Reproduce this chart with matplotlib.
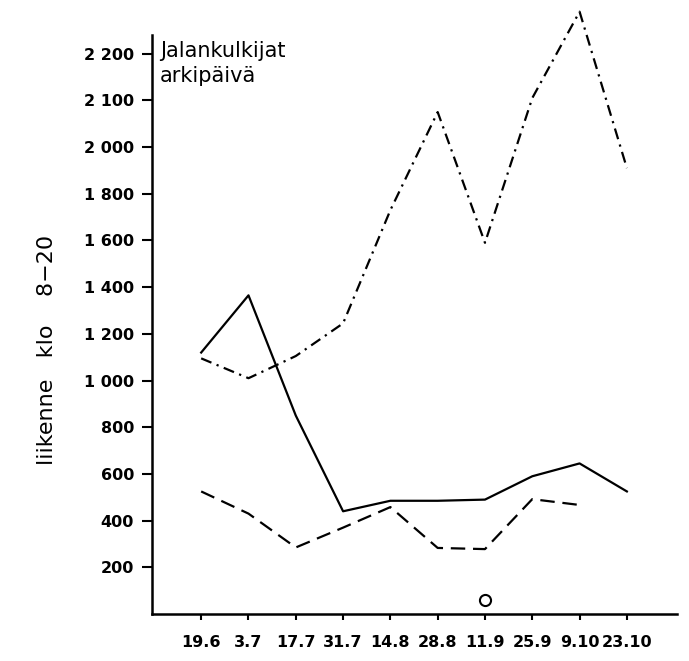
import numpy as np
import matplotlib
matplotlib.use("Agg")
import matplotlib.pyplot as plt

dates = ["19.6", "3.7", "17.7", "31.7", "14.8", "28.8", "11.9", "25.9", "9.10", "23.10"]
solid = [1120, 1365, 850, 440, 485, 485, 490, 590, 645, 525]
dashdot = [1095, 1010, 1105, 1245, 1730, 2075, 1590, 2105, 2290, 1910]
dashed = [525, 430, 285, 370, 458, 283, 278, 492, 467]
circle_x = [6]
circle_y = [60]

yticks = [200, 400, 600, 800, 1000, 1200, 1400, 1600, 1800, 2000, 2100, 2200]
ytick_labels = ["200", "400", "600", "800", "1 000", "1 200", "1 400", "1 600",
                "1 800", "2 000", "2 100", "2 200"]

# scale above 2000 is stretched twice
def fwd(v):
    v = np.asarray(v, dtype=float)
    return np.where(v <= 2000, v, 2000 + 2 * (v - 2000))

def inv(t):
    t = np.asarray(t, dtype=float)
    return np.where(t <= 2000, t, 2000 + (t - 2000) / 2)

fig = plt.figure(figsize=(6.89, 6.61), dpi=100)
ax = fig.add_axes([0.2206, 0.0711, 0.9826 - 0.2206, 0.947 - 0.0711])

x = np.arange(len(dates))
ax.plot(x, solid, color="black", lw=1.6)
ax.plot(x, dashdot, color="black", lw=1.6, linestyle=(0, (5, 2.5, 1, 2.5)), clip_on=False)
ax.plot(x[:len(dashed)], dashed, color="black", lw=1.6, linestyle=(0, (6.5, 3.5)))
ax.plot(circle_x, circle_y, "o", mfc="white", mec="black", mew=1.5, ms=8)

ax.set_yscale("function", functions=(fwd, inv))
ax.set_ylim(0, 2240)
ax.set_xlim(-1.04, 10.06)

ax.set_yticks(yticks)
ax.set_yticklabels(ytick_labels, fontsize=11.5, fontweight="bold")
ax.set_xticks(x)
ax.set_xticklabels(dates, fontsize=11.5, fontweight="bold")
ax.minorticks_off()

ax.spines["top"].set_visible(False)
ax.spines["right"].set_visible(False)
ax.spines["left"].set_linewidth(1.8)
ax.spines["bottom"].set_linewidth(1.8)
ax.tick_params(axis="y", direction="out", length=7, width=1.5, pad=6)
ax.tick_params(axis="x", direction="out", length=4, width=1.5, pad=11)

ax.text(0.015, 0.99, "Jalankulkijat\narkipäivä", transform=ax.transAxes,
        fontsize=15, va="top", ha="left", linespacing=1.3)

fig.text(0.068, 1 - 350 / 661, "liikenne   klo    8\u221220", rotation=90,
         fontsize=16, ha="center", va="center")

fig.savefig("out.png", dpi=100, facecolor="white")
